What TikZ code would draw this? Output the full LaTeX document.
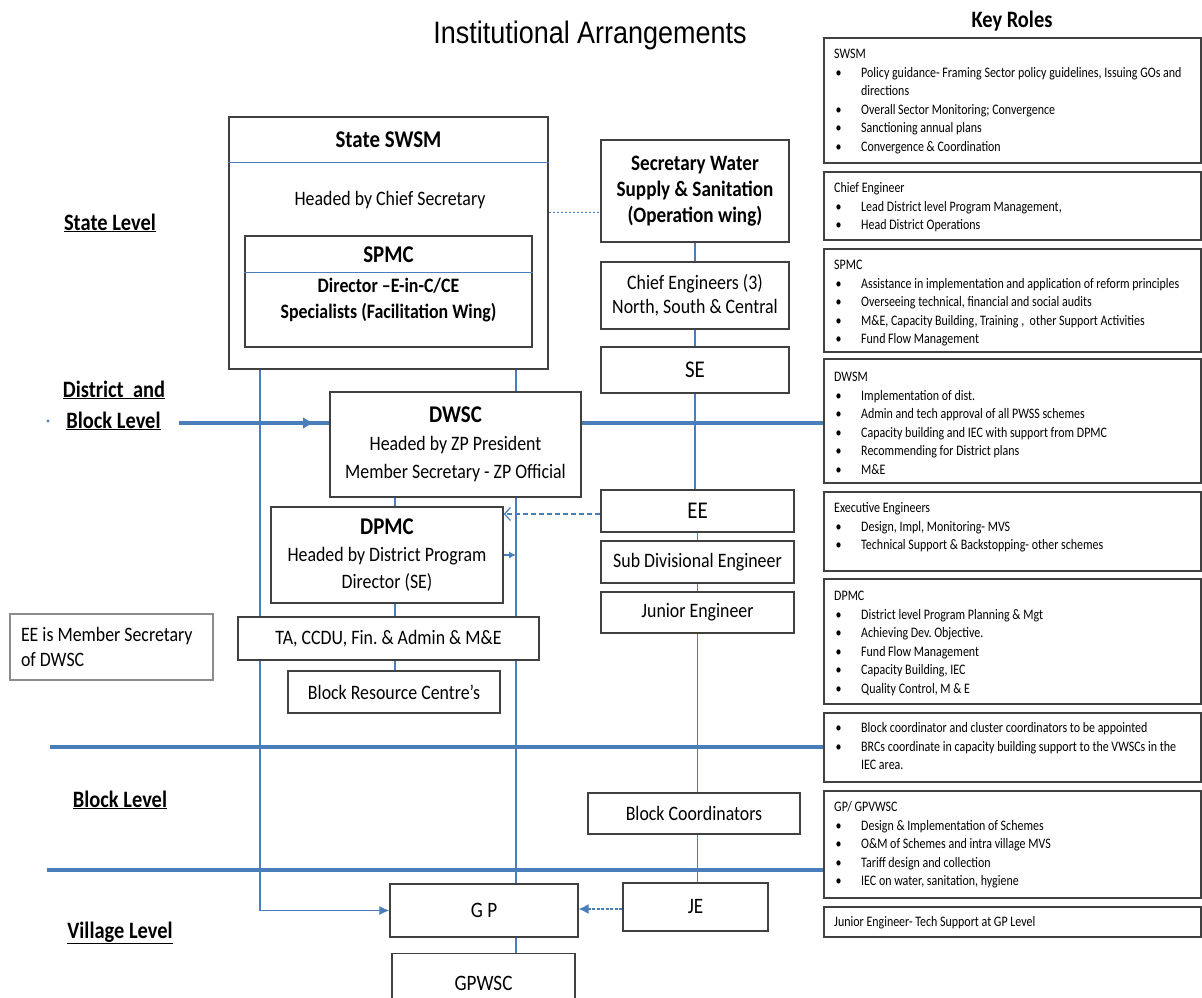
\documentclass[tikz,border=0pt]{standalone}
\usepackage{fontspec}
\setmainfont{Carlito}[FakeStretch=0.87]
\newfontfamily\titlefont{Liberation Sans}[FakeStretch=0.87]
\newfontfamily\rolefont{Carlito}[FakeStretch=0.825]
\usepackage{tikz}
\usetikzlibrary{positioning, arrows.meta, backgrounds}
\definecolor{lineBlue}{RGB}{74,126,187}
\definecolor{boxGrey}{RGB}{64,64,64}
\definecolor{noteGrey}{RGB}{140,140,140}
\newcommand{\rbul}{\makebox[27pt][l]{\hspace{1.5pt}\textbullet}}
\newcommand{\rgap}{\hspace*{27pt}}
\frenchspacing

\begin{document}
\begin{tikzpicture}[x=1pt, y=-1pt,
  box/.style={draw=boxGrey, line width=1.3pt, fill=white, align=center, inner sep=0pt,
    font=\fontsize{20.5}{27}\selectfont},
  head/.style={font=\bfseries\fontsize{24}{28}\selectfont},
  lvl/.style={font=\bfseries\fontsize{23.5}{28}\selectfont, anchor=base},
  link/.style={draw=lineBlue, line width=1.2pt},
  level/.style={draw=lineBlue, line width=4pt},
  role/.style={draw=boxGrey, line width=1.5pt, anchor=north west, minimum width=377pt, inner sep=0pt},
  roletxt/.style={anchor=base west, text width=362pt, align=flush left, inner sep=0pt,
    font=\rolefont\fontsize{14.5}{18.5}\selectfont},
]
\useasboundingbox (0,0) rectangle (1202,997);
\clip (0,0) rectangle (1202,997);

% headings and levels
\node[font=\titlefont\fontsize{31}{36}\selectfont, anchor=base] (title) at (590,43) {Institutional Arrangements};
\node[font=\bfseries\fontsize{23.5}{28}\selectfont, anchor=base] (keyroles) at (1012,27) {Key Roles};
\node[lvl] (lstate) at (110,230) {\underline{State Level}};
\node[lvl] (ldist) at (114,397) {\underline{District~ and}};
\node[lvl] (ldblock) at (113.5,428) {\underline{Block Level}};
\node[lvl] (lblock) at (120,807) {\underline{Block Level}};
\node[lvl] (lvillage) at (120,938) {\underline{Village Level}};

% state level
\node[box, minimum width=319pt, minimum height=252pt] (swsm) at (388.5,243) {};
\node[head] (swsmhead) at (388.5,140) {State SWSM};
\node[font=\fontsize{20.5}{27}\selectfont] (swsmchief) at (390,200) {Headed by Chief Secretary};
\node[box, minimum width=287pt, minimum height=111pt] (spmc) at (388.5,291.5) {};
\node[head] (spmchead) at (388.5,255) {SPMC};
\node[align=center, font=\bfseries\fontsize{20.5}{26}\selectfont] (spmcbody) at (388.5,300)
  {Director –E-in-C/CE\\Specialists (Facilitation Wing)};
\draw[link] ([yshift=-46pt]swsm.north west) -- ([yshift=-46pt]swsm.north east);
\draw[link] ([yshift=-37pt]spmc.north west) -- ([yshift=-37pt]spmc.north east);

\node[box, minimum width=188pt, minimum height=102pt, font=\bfseries\fontsize{22}{26}\selectfont] (sec) at (695,191)
  {Secretary Water\\Supply \& Sanitation\\(Operation wing)};
\node[box, minimum width=188pt, minimum height=67pt, font=\fontsize{20.5}{24}\selectfont] (ce) at (695,295.5)
  {Chief Engineers (3)\\North, South \& Central};
\node[box, minimum width=188pt, minimum height=46pt, font=\fontsize{24}{28}\selectfont] (se) at (695,370) {SE};
\node[box, minimum width=193pt, minimum height=42pt, font=\fontsize{24}{28}\selectfont] (ee) at (697.5,511) {EE};
\node[box, minimum width=193pt, minimum height=42pt] (sde) at (697.5,562) {Sub Divisional Engineer};
\node[box, minimum width=193pt, minimum height=41pt] (jeng) at (697.5,612.5) {Junior Engineer};
\node[box, minimum width=212pt, minimum height=41pt] (bc) at (694,813.5) {Block Coordinators};
\node[box, minimum width=145pt, minimum height=48pt, font=\fontsize{22}{26}\selectfont] (je) at (695.5,907) {JE};

% district level
\node[box, minimum width=251pt, minimum height=105pt, font=\fontsize{20.5}{28}\selectfont] (dwsc) at (455.5,444.5)
  {\textbf{\fontsize{24}{28}\selectfont DWSC}\\Headed by ZP President\\Member Secretary - ZP Official};
\node[box, minimum width=232pt, minimum height=96pt] (dpmc) at (387,555)
  {\textbf{\fontsize{24}{28}\selectfont DPMC}\\Headed by District Program\\Director (SE)};
\node[box, minimum width=301pt, minimum height=43pt] (ta) at (388.5,638.5) {TA, CCDU, Fin. \& Admin \& M\&E};
\node[box, minimum width=212pt, minimum height=42pt] (brc) at (394,692) {Block Resource Centre's};
\node[box, draw=noteGrey, minimum width=203pt, minimum height=66pt, align=flush left, text width=181pt,
  font=\fontsize{20.5}{25}\selectfont] (eenote) at (111.5,647) {EE is Member Secretary\\of DWSC};

% village level
\node[box, minimum width=188pt, minimum height=53pt, font=\fontsize{22}{26}\selectfont] (gp) at (484,910.5) {G P};
\node[box, minimum width=183pt, minimum height=60pt, font=\fontsize{22}{26}\selectfont, anchor=north] (gpwsc) at (483.5,953) {GPWSC};

% key roles
\node[role, minimum height=125pt] (rSWSM) at (823,37) {};
\node[roletxt] (tSWSM) at (834,58.5) {SWSM\\
  \rbul Policy guidance- Framing Sector policy guidelines, Issuing GOs and\\
  \rgap directions\\
  \rbul Overall Sector Monitoring; Convergence\\
  \rbul Sanctioning annual plans\\
  \rbul Convergence \& Coordination};
\node[role, minimum height=68pt] (rCE) at (823,171) {};
\node[roletxt] (tCE) at (834,192.5) {Chief Engineer\\
  \rbul Lead District level Program Management,\\
  \rbul Head District Operations};
\node[role, minimum height=103pt] (rSPMC) at (823,248) {};
\node[roletxt] (tSPMC) at (834,269.5) {SPMC\\
  \rbul Assistance in implementation and application of reform principles\\
  \rbul Overseeing technical, financial and social audits\\
  \rbul M\&E, Capacity Building, Training ,\ \ other Support Activities\\
  \rbul Fund Flow Management};
\node[role, minimum height=124pt] (rDWSM) at (823,358) {};
\node[roletxt] (tDWSM) at (834,381.5) {DWSM\\
  \rbul Implementation of dist.\\
  \rbul Admin and tech approval of all PWSS schemes\\
  \rbul Capacity building and IEC with support from DPMC\\
  \rbul Recommending for District plans\\
  \rbul M\&E};
\node[role, minimum height=79pt] (rEE) at (823,491) {};
\node[roletxt] (tEE) at (834,512.5) {Executive Engineers\\
  \rbul Design, Impl, Monitoring- MVS\\
  \rbul Technical Support \& Backstopping- other schemes};
\node[role, minimum height=125pt] (rDPMC) at (823,578) {};
\node[roletxt] (tDPMC) at (834,600.5) {DPMC\\
  \rbul District level Program Planning \& Mgt\\
  \rbul Achieving Dev. Objective.\\
  \rbul Fund Flow Management\\
  \rbul Capacity Building, IEC\\
  \rbul Quality Control, M \& E};
\node[role, minimum height=69pt] (rBRC) at (823,712) {};
\node[roletxt] (tBRC) at (834,732.5) {\rbul Block coordinator and cluster coordinators to be appointed\\
  \rbul BRCs coordinate in capacity building support to the VWSCs in the\\
  \rgap IEC area.};
\node[role, minimum height=107pt] (rGP) at (823,790) {};
\node[roletxt] (tGP) at (834,811.5) {GP/ GPVWSC\\
  \rbul Design \& Implementation of Schemes\\
  \rbul O\&M of Schemes and intra village MVS\\
  \rbul Tariff design and collection\\
  \rbul IEC on water, sanitation, hygiene};
\node[role, minimum height=30pt] (rJE) at (823,906) {};
\node[roletxt] (tJE) at (834,926.5) {Junior Engineer- Tech Support at GP Level};

% connectors behind the boxes
\begin{scope}[on background layer]
\fill[white] (0,0) rectangle (1202,997);
\coordinate (lvx) at (260,0);
\coordinate (rvx) at (516,0);
\coordinate (cvx) at (395,0);
\draw[link, -{Latex[length=10pt,width=9pt]}] (lvx |- swsm.south) |- (gp.west);
\draw[link] (rvx |- swsm.south) -- (rvx |- gp.north);
\draw[link] (rvx |- gp.south) -- (rvx |- gpwsc.north);
\draw[link, -{Latex[length=7pt,width=7pt]}] (dpmc.east) -- (dpmc.east -| rvx);
\draw[link] (cvx |- dwsc.south) -- (cvx |- dpmc.north);
\draw[link] (cvx |- dpmc.south) -- (cvx |- ta.north);
\draw[link] (cvx |- ta.south) -- (cvx |- brc.north);
\draw[link] (sec.south) -- (ce.north);
\draw[link] (ce.south) -- (se.north);
\draw[link] (se.south) -- (se.south |- ee.north);
\draw[link] (ee.south) -- (sde.north);
\draw[link] (sde.south) -- (jeng.north);
\draw[link] (jeng.south) -- (jeng.south |- bc.north);
\draw[link] (jeng.south |- bc.south) -- (jeng.south |- je.north);
\coordinate (dashc) at ([yshift=-21pt]sec.west);
\draw[link, line width=1pt, dash pattern=on 2.5pt off 1.5pt] (swsm.east |- dashc) -- (dashc);
\draw[link, dash pattern=on 5pt off 3pt, -{Straight Barb[length=6pt,width=13pt]}]
  ([yshift=-3pt]ee.west) -- ([yshift=-3pt]ee.west -| dpmc.east);
\draw[link, dash pattern=on 3pt off 1.5pt, -{Latex[length=10pt,width=10pt]}]
  ([yshift=-2pt]je.west) -- ([yshift=-2pt]je.west -| gp.east);
% level lines
\coordinate (dbl) at (179,423);
\coordinate (dtip) at (314,423);
\draw[level] (dbl) -- (dbl -| dwsc.west);
\draw[level, -{Latex[length=11pt,width=12pt]}] (dbl) -- (dtip);
\draw[level] (dwsc.east |- dbl) -- (dbl -| rDWSM.west);
\coordinate (bl1) at (50,747);
\draw[level] (bl1) -- (bl1 -| rBRC.west);
\coordinate (bl2) at (47,870);
\draw[level] (bl2) -- (bl2 -| rGP.west);
\fill[lineBlue] (48,421) circle (1.6pt);
\end{scope}
\end{tikzpicture}
\end{document}
